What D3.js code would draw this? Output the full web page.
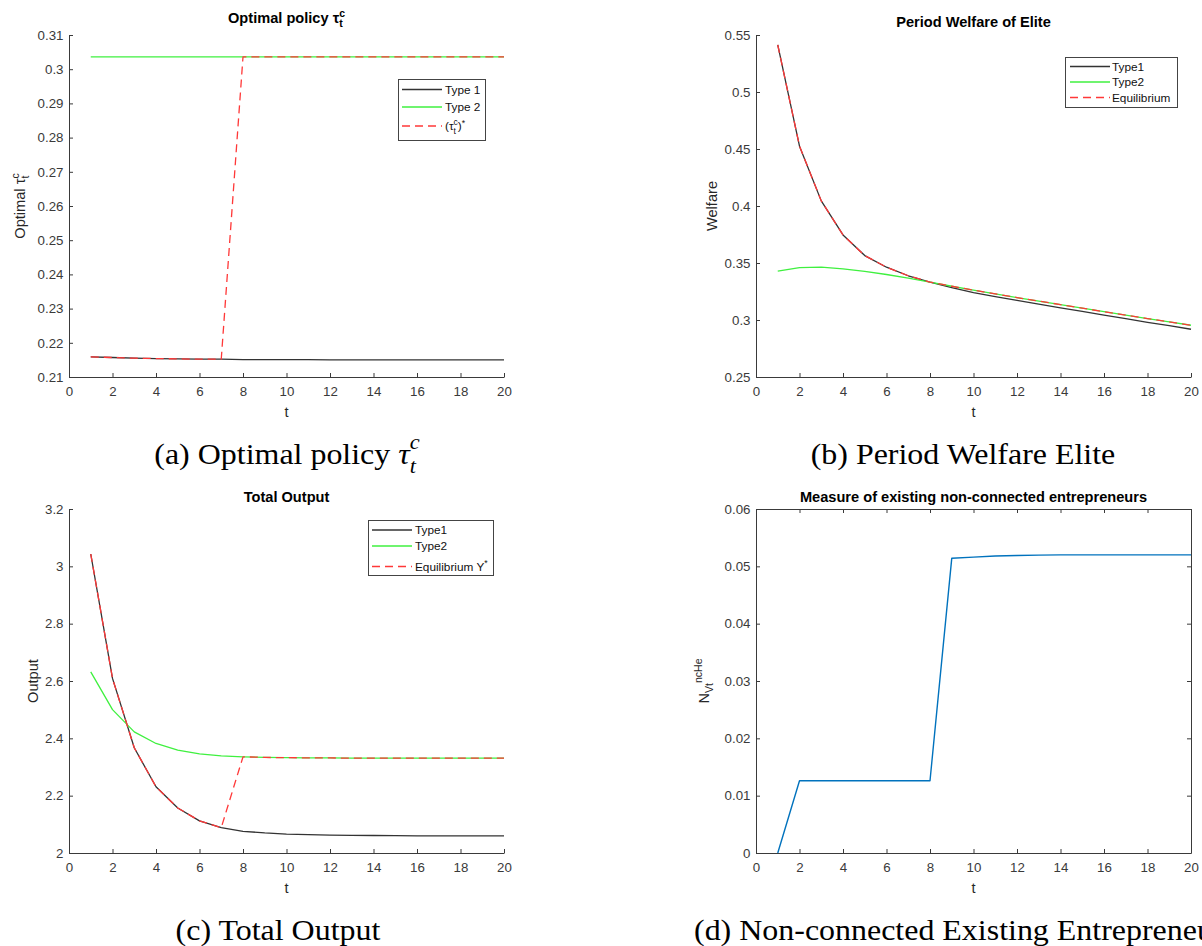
<!DOCTYPE html>
<html>
<head>
<meta charset="utf-8">
<script src="https://cdn.jsdelivr.net/npm/d3@7"></script>
<style>
  html, body { margin: 0; padding: 0; background: #fff; }
  svg { display: block; }
  text { white-space: pre; }
</style>
</head>
<body>
<svg id="fig" width="1202" height="946"></svg>
<script>
// ---- time index shared by all four panels ----
const periods = [1, 2, 3, 4, 5, 6, 7, 8, 9, 10, 11, 12, 13, 14, 15, 16, 17, 18, 19, 20];
const periodTicks = [0, 2, 4, 6, 8, 10, 12, 14, 16, 18, 20];

// ---- (a) optimal policy tau_t^c ----
const tauType1 = [0.2159, 0.2157, 0.2155, 0.2154, 0.2153, 0.2152, 0.2152, 0.2151, 0.2151, 0.2151,
                  0.2151, 0.2150, 0.2150, 0.2150, 0.2150, 0.2150, 0.2150, 0.2150, 0.2150, 0.2150];
const tauType2 = [0.3036, 0.3036, 0.3036, 0.3036, 0.3036, 0.3036, 0.3036, 0.3036, 0.3036, 0.3036,
                  0.3036, 0.3036, 0.3036, 0.3036, 0.3036, 0.3036, 0.3036, 0.3036, 0.3036, 0.3036];
const tauEquilibrium = [0.2159, 0.2157, 0.2155, 0.2154, 0.2153, 0.2152, 0.2152, 0.3036, 0.3036, 0.3036,
                        0.3036, 0.3036, 0.3036, 0.3036, 0.3036, 0.3036, 0.3036, 0.3036, 0.3036, 0.3036];
const tauTicks = [0.21, 0.22, 0.23, 0.24, 0.25, 0.26, 0.27, 0.28, 0.29, 0.3, 0.31];

// ---- (b) period welfare of the elite ----
const welfareType1 = [0.5413, 0.4525, 0.4045, 0.3746, 0.3565, 0.3463, 0.3388, 0.3332, 0.3285, 0.3240,
                      0.3206, 0.3172, 0.3139, 0.3107, 0.3075, 0.3043, 0.3012, 0.2980, 0.2950, 0.2919];
const welfareType2 = [0.3428, 0.3460, 0.3463, 0.3449, 0.3426, 0.3399, 0.3367, 0.3333, 0.3296, 0.3262,
                      0.3229, 0.3197, 0.3166, 0.3135, 0.3104, 0.3073, 0.3043, 0.3013, 0.2983, 0.2954];
const welfareEquilibrium = [0.5413, 0.4525, 0.4045, 0.3746, 0.3565, 0.3463, 0.3388, 0.3333, 0.3296, 0.3262,
                            0.3229, 0.3197, 0.3166, 0.3135, 0.3104, 0.3073, 0.3043, 0.3013, 0.2983, 0.2954];
const welfareTicks = [0.25, 0.3, 0.35, 0.4, 0.45, 0.5, 0.55];

// ---- (c) total output ----
const outputType1 = [3.043, 2.609, 2.367, 2.231, 2.157, 2.112, 2.0885, 2.0757, 2.070, 2.066,
                     2.064, 2.0625, 2.0615, 2.061, 2.0605, 2.060, 2.0598, 2.0596, 2.0595, 2.0595];
const outputType2 = [2.632, 2.500, 2.4225, 2.382, 2.359, 2.3455, 2.339, 2.3355, 2.3335, 2.3325,
                     2.332, 2.3315, 2.331, 2.331, 2.331, 2.331, 2.331, 2.331, 2.331, 2.331];
const outputEquilibrium = [3.043, 2.609, 2.367, 2.231, 2.157, 2.112, 2.0885, 2.3355, 2.3335, 2.3325,
                           2.332, 2.3315, 2.331, 2.331, 2.331, 2.331, 2.331, 2.331, 2.331, 2.331];
const outputTicks = [2, 2.2, 2.4, 2.6, 2.8, 3, 3.2];

// ---- (d) existing non-connected entrepreneurs ----
const nonConnected = [0, 0.0126, 0.0126, 0.0126, 0.0126, 0.0126, 0.0126, 0.0126, 0.0514, 0.0516,
                      0.0518, 0.0519, 0.05195, 0.0520, 0.0520, 0.0520, 0.0520, 0.0520, 0.0520, 0.0520];
const nonConnectedTicks = [0, 0.01, 0.02, 0.03, 0.04, 0.05, 0.06];

// ---- styling ----
const SANS = "'Liberation Sans', Arial, Helvetica, sans-serif";
const SERIF = "'Liberation Serif', 'Times New Roman', serif";
const AXIS_COLOR = "#3a3a3a";
const TICK_FONT = 13.3;
const LABEL_FONT = 14.6;
const LEGEND_FONT = 11.8;
const BLACK_LINE = "#333333";
const GREEN_LINE = "#3ff03f";
const RED_LINE = "#ff3838";
const BLUE_LINE = "#0072bd";
const DASH = "8,5";

const svg = d3.select("#fig");

// One <text> built from pieces with sub/superscripts; "stack" starts a piece
// where the previous one started (sub and sup over each other).
function scripted(parent, segs, o) {
  const text = parent.append("text")
    .attr("font-family", o.family)
    .attr("font-size", o.size)
    .attr("font-weight", o.weight || "normal")
    .attr("fill", o.fill || "#000");
  let cursor = 0, prevStart = 0;
  segs.forEach(s => {
    const ts = text.append("tspan")
      .attr("font-size", o.size * (s.scale || 1))
      .attr("y", (s.shift || 0) * o.size)
      .attr("font-style", s.italic ? "italic" : null)
      .attr("x", 0)
      .text(s.text);
    const w = ts.node().getComputedTextLength();
    const start = s.stack ? prevStart : cursor;
    ts.attr("x", start);
    prevStart = start;
    cursor = Math.max(cursor, start + w);
  });
  return { g: text, width: cursor };
}

function centered(parent, segs, o, cx, y) {
  const r = scripted(parent, segs, o);
  r.g.attr("transform", `translate(${cx - r.width / 2},${y})`);
}

function vertical(parent, segs, o, x, cy) {
  const r = scripted(parent, segs, o);
  r.g.attr("transform", `translate(${x},${cy}) rotate(-90) translate(${-r.width / 2},0)`);
}

function styleAxis(g, withText) {
  g.attr("font-family", SANS).attr("font-size", TICK_FONT);
  g.select(".domain").attr("stroke", AXIS_COLOR).attr("stroke-width", 1);
  g.selectAll(".tick line").attr("stroke", AXIS_COLOR).attr("stroke-width", 1);
  g.selectAll(".tick text").attr("fill", "#3a3a3a");
  if (!withText) g.selectAll(".tick text").remove();
}

function drawLegend(parent, box, rows) {
  parent.append("rect")
    .attr("x", box.x + 0.5).attr("y", box.y + 0.5)
    .attr("width", box.w).attr("height", box.h)
    .attr("fill", "#fff").attr("stroke", "#444").attr("stroke-width", 1);
  rows.forEach(r => {
    parent.append("line")
      .attr("x1", box.lineX0).attr("x2", box.lineX1)
      .attr("y1", r.y).attr("y2", r.y)
      .attr("stroke", r.color).attr("stroke-width", 1.3)
      .attr("stroke-dasharray", r.dash || null);
    const t = scripted(parent, r.segs, { family: SANS, size: LEGEND_FONT, fill: "#111" });
    t.g.attr("transform", `translate(${box.textX},${r.y + 4.2})`);
  });
}

function drawPanel(cfg) {
  const x = d3.scaleLinear().domain([0, 20]).range([cfg.left, cfg.right]);
  const y = d3.scaleLinear().domain(cfg.yDomain).range([cfg.bottom, cfg.top]);
  const g = svg.append("g");

  const gx = g.append("g")
    .attr("transform", `translate(0,${cfg.bottom})`)
    .call(d3.axisBottom(x).tickValues(periodTicks).tickFormat(String)
      .tickSizeInner(-4).tickSizeOuter(0).tickPadding(10));
  styleAxis(gx, true);

  const gy = g.append("g")
    .attr("transform", `translate(${cfg.left},0)`)
    .call(d3.axisLeft(y).tickValues(cfg.yTicks).tickFormat(String)
      .tickSizeInner(-4).tickSizeOuter(0).tickPadding(5.5));
  styleAxis(gy, true);

  if (cfg.box) {
    const gt = g.append("g")
      .attr("transform", `translate(0,${cfg.top})`)
      .call(d3.axisTop(x).tickValues(periodTicks).tickSizeInner(-4).tickSizeOuter(0));
    styleAxis(gt, false);
    const gr = g.append("g")
      .attr("transform", `translate(${cfg.right},0)`)
      .call(d3.axisRight(y).tickValues(cfg.yTicks).tickSizeInner(-4).tickSizeOuter(0));
    styleAxis(gr, false);
  }

  const line = d3.line().x((d, i) => x(periods[i])).y(d => y(d));
  cfg.series.forEach(s => {
    g.append("path")
      .datum(s.values)
      .attr("d", line)
      .attr("fill", "none")
      .attr("stroke", s.color)
      .attr("stroke-width", s.width || 1.3)
      .attr("stroke-dasharray", s.dash || null)
      .attr("stroke-linejoin", "round");
  });

  const cx = (cfg.left + cfg.right) / 2;
  centered(g, cfg.title, { family: SANS, size: 14.6, weight: "bold", fill: "#000" }, cx, cfg.titleY);
  centered(g, [{ text: "t" }], { family: SANS, size: LABEL_FONT, fill: "#262626" }, cx, cfg.bottom + 40);
  vertical(g, cfg.ylabel, { family: SANS, size: LABEL_FONT, fill: "#262626" }, cfg.ylabelX, (cfg.top + cfg.bottom) / 2);

  if (cfg.legend) drawLegend(g, cfg.legend.box, cfg.legend.rows);
}

// (a)
drawPanel({
  left: 69, right: 504, top: 35, bottom: 377,
  yDomain: [0.21, 0.31], yTicks: tauTicks,
  series: [
    { values: tauType1, color: BLACK_LINE },
    { values: tauType2, color: GREEN_LINE },
    { values: tauEquilibrium, color: RED_LINE, dash: DASH }
  ],
  title: [
    { text: "Optimal policy " }, { text: "τ" },
    { text: "c", scale: 0.72, shift: -0.42 }, { text: "t", scale: 0.72, shift: 0.3, stack: true }
  ],
  titleY: 23,
  ylabel: [
    { text: "Optimal " }, { text: "τ" },
    { text: "c", scale: 0.72, shift: -0.42 }, { text: "t", scale: 0.72, shift: 0.3, stack: true }
  ],
  ylabelX: 25,
  legend: {
    box: { x: 398, y: 79, w: 87, h: 61, lineX0: 402, lineX1: 442, textX: 445 },
    rows: [
      { y: 89.5, color: BLACK_LINE, segs: [{ text: "Type 1" }] },
      { y: 107, color: GREEN_LINE, segs: [{ text: "Type 2" }] },
      { y: 126, color: RED_LINE, dash: DASH, segs: [
        { text: "(" }, { text: "τ" },
        { text: "c", scale: 0.72, shift: -0.42 }, { text: "t", scale: 0.72, shift: 0.3, stack: true },
        { text: ")" }, { text: "*", scale: 0.72, shift: -0.35 }
      ] }
    ]
  }
});

// (b)
drawPanel({
  left: 756, right: 1191, top: 35, bottom: 377,
  yDomain: [0.25, 0.55], yTicks: welfareTicks,
  series: [
    { values: welfareType1, color: BLACK_LINE },
    { values: welfareType2, color: GREEN_LINE },
    { values: welfareEquilibrium, color: RED_LINE, dash: DASH }
  ],
  title: [{ text: "Period Welfare of Elite" }],
  titleY: 27,
  ylabel: [{ text: "Welfare" }],
  ylabelX: 717,
  legend: {
    box: { x: 1065, y: 57, w: 112, h: 50, lineX0: 1070, lineX1: 1110, textX: 1112 },
    rows: [
      { y: 66.5, color: BLACK_LINE, segs: [{ text: "Type1" }] },
      { y: 82, color: GREEN_LINE, segs: [{ text: "Type2" }] },
      { y: 97.5, color: RED_LINE, dash: DASH, segs: [{ text: "Equilibrium" }] }
    ]
  }
});

// (c)
drawPanel({
  left: 69, right: 504, top: 509, bottom: 853,
  yDomain: [2, 3.2], yTicks: outputTicks,
  series: [
    { values: outputType1, color: BLACK_LINE },
    { values: outputType2, color: GREEN_LINE },
    { values: outputEquilibrium, color: RED_LINE, dash: DASH }
  ],
  title: [{ text: "Total Output" }],
  titleY: 502,
  ylabel: [{ text: "Output" }],
  ylabelX: 38,
  legend: {
    box: { x: 368, y: 520, w: 125, h: 55, lineX0: 372, lineX1: 412, textX: 415 },
    rows: [
      { y: 530, color: BLACK_LINE, segs: [{ text: "Type1" }] },
      { y: 546, color: GREEN_LINE, segs: [{ text: "Type2" }] },
      { y: 566.5, color: RED_LINE, dash: DASH, segs: [
        { text: "Equilibrium Y" }, { text: "*", scale: 0.72, shift: -0.4 }
      ] }
    ]
  }
});

// (d)
drawPanel({
  left: 756, right: 1191, top: 509, bottom: 853, box: true,
  yDomain: [0, 0.06], yTicks: nonConnectedTicks,
  series: [{ values: nonConnected, color: BLUE_LINE, width: 1.4 }],
  title: [{ text: "Measure of existing non-connected entrepreneurs" }],
  titleY: 502,
  ylabel: [
    { text: "N" }, { text: "Vt", scale: 0.72, shift: 0.3 }, { text: "ncHe", scale: 0.72, shift: -0.5 }
  ],
  ylabelX: 709
});

// ---- sub-figure captions ----
const CAPTION_SIZE = 30;
const CAPTION_STRETCH = 1.065;
function caption(segs, x, y, anchor) {
  const r = scripted(svg, segs, { family: SERIF, size: CAPTION_SIZE, fill: "#000" });
  const left = anchor === "start" ? x : x - r.width * CAPTION_STRETCH / 2;
  r.g.attr("transform", `translate(${left},${y}) scale(${CAPTION_STRETCH},1)`);
}
caption([
  { text: "(a) Optimal policy " }, { text: "τ", italic: true },
  { text: "c", italic: true, scale: 0.7, shift: -0.5 }, { text: "t", italic: true, scale: 0.7, shift: 0.3, stack: true }
], 287, 464);
caption([{ text: "(b) Period Welfare Elite" }], 963, 464);
caption([{ text: "(c) Total Output" }], 278, 940);
caption([{ text: "(d) Non-connected Existing Entrepreneurs" }], 694, 940, "start");
</script>
</body>
</html>
